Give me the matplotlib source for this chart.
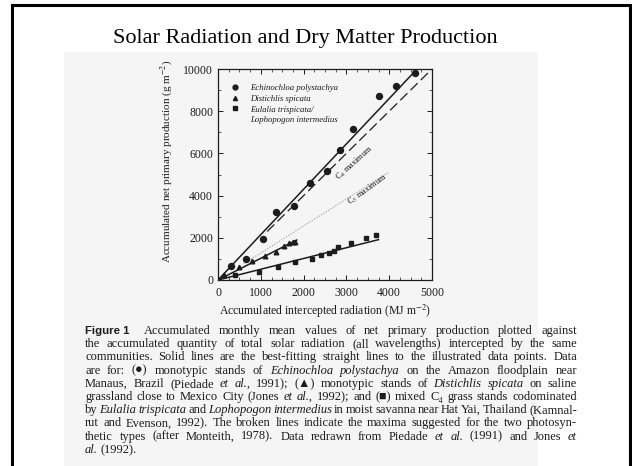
import numpy as np
import matplotlib
matplotlib.use('Agg')
import matplotlib.pyplot as plt
from matplotlib.lines import Line2D
from matplotlib.patches import Rectangle

plt.rcParams['font.family'] = ['Liberation Serif', 'DejaVu Sans']
plt.rcParams['mathtext.fontset'] = 'stix'

### DATA
echino_x = [300, 650, 1050, 1350, 1780, 2150, 2550, 2850, 3150, 3750, 4150, 4600]
echino_y = [650, 1000, 1950, 3200, 3500, 4600, 5150, 6150, 7150, 8700, 9200, 9800]

distich_x = [150, 500, 800, 1100, 1350, 1550, 1650, 1750, 1800]
distich_y = [250, 600, 880, 1150, 1350, 1600, 1750, 1780, 1820]

eulalia_x = [400, 950, 1400, 1800, 2200, 2400, 2600, 2700, 2800, 3100, 3450, 3700]
eulalia_y = [250, 400, 620, 870, 1000, 1180, 1300, 1380, 1580, 1750, 2000, 2150]

# best-fit lines (slope, x range) as drawn in the figure
fit_slopes = [2.15, 1.03, 0.51]
fit_x_end = [4650, 1840, 3750]

# Monteith maxima (broken lines)
c4_slope, c4_x = 2.0, [1150, 5000]
c3_slope, c3_x = 1.28, [600, 4000]

x_ticks = [0, 1000, 2000, 3000, 4000, 5000]
y_ticks = [0, 2000, 4000, 6000, 8000, 10000]

legend_labels = ['Echinochloa polystachya', 'Distichlis spicata',
                 'Eulalia trispicata/', 'Lophopogon intermedius']

caption = [
    [('Figure 1', 'b'), ('Accumulated monthly mean values of net primary production plotted against', 'n')],
    [('the accumulated quantity of total solar radiation (all wavelengths) intercepted by the same', 'n')],
    [('communities. Solid lines are the best-fitting straight lines to the illustrated data points. Data', 'n')],
    [('are for: (\u25cf) monotypic stands of', 'n'), ('Echinochloa polystachya', 'i'), ('on the Amazon floodplain near', 'n')],
    [('Manaus, Brazil (Piedade', 'n'), ('et al.,', 'i'), ('1991); (\u25b2) monotypic stands of', 'n'),
     ('Distichlis spicata', 'i'), ('on saline', 'n')],
    [('grassland close to Mexico City (Jones', 'n'), ('et al.,', 'i'),
     ('1992); and (\u25a0) mixed C\u2084 grass stands codominated', 'n')],
    [('by', 'n'), ('Eulalia trispicata', 'i'), ('and', 'n'), ('Lophopogon intermedius', 'i'),
     ('in moist savanna near Hat Yai, Thailand (Kamnal-', 'n')],
    [('rut and Evenson, 1992). The broken lines indicate the maxima suggested for the two photosyn-', 'n')],
    [('thetic types (after Monteith, 1978). Data redrawn from Piedade', 'n'), ('et al.', 'i'),
     ('(1991) and Jones', 'n'), ('et', 'i')],
    [('al.', 'i'), ('(1992).', 'n')],
]

### FIGURE
W, H = 632, 466
fig = plt.figure(figsize=(W / 100, H / 100), dpi=100)
fig.patch.set_facecolor('white')

# slide frame and scanned page background
fig.patches.append(Rectangle((12 / W, -0.05), (630 - 12) / W, 1.05 - 5 / H, transform=fig.transFigure,
                             fill=False, edgecolor='black', linewidth=2.2, zorder=-1))
fig.patches.append(Rectangle((64 / W, 0), (538 - 64) / W, 1 - 52 / H, transform=fig.transFigure,
                             facecolor='#f5f5f5', edgecolor='none', zorder=-2))

fig.text(305 / W, 1 - 38 / H, 'Solar Radiation and Dry Matter Production',
         ha='center', va='center', fontsize=16, color='black')

ax = fig.add_axes([218 / W, 1 - 280 / H, (432 - 218) / W, (280 - 69) / H])
ax.set_zorder(2)
ax.set_facecolor('none')
ink = '#1c1c1c'

ax.plot(echino_x, echino_y, 'o', color=ink, markersize=4.3, zorder=3)
ax.plot(distich_x, distich_y, '^', color=ink, markersize=3.3, zorder=3)
ax.plot(eulalia_x, eulalia_y, 's', color=ink, markersize=3.5, zorder=3)

for s, xe in zip(fit_slopes, fit_x_end):
    xx = np.array([0, xe])
    ax.plot(xx, s * xx, '-', color=ink, linewidth=1.1)

xx = np.array(c4_x)
ax.plot(xx, c4_slope * xx, color=ink, linewidth=0.9, dashes=(8, 3.5))
xx = np.array(c3_x)
ax.plot(xx, c3_slope * xx, color='#9a9a9a', linewidth=0.8, dashes=(1, 1.5))

ax.text(3200, 5550, r'C$_4$ maximum', rotation=42, ha='center', va='center',
        fontsize=6, color=ink)
ax.text(3500, 4300, r'C$_3$ maximum', rotation=36, ha='center', va='center',
        fontsize=6, color=ink)

ax.set_xlim(0, 5000)
ax.set_ylim(0, 10000)
ax.set_xticks(x_ticks)
ax.set_yticks(y_ticks)
ax.set_xticks(np.arange(0, 5001, 250), minor=True)
ax.set_yticks(np.arange(0, 10001, 1000), minor=True)
ax.tick_params(which='both', direction='in', top=True, right=True, color=ink,
               labelsize=8.5, labelcolor=ink)
ax.tick_params(which='major', length=3.5, width=0.7)
ax.tick_params(which='minor', length=2, width=0.5)
ax.tick_params(axis='x', pad=5)
for sp in ax.spines.values():
    sp.set_linewidth(0.9)
    sp.set_color(ink)

ax.set_xlabel(r'Accumulated intercepted radiation (MJ m$^{-2}$)', fontsize=8.5, color=ink, labelpad=3)
ax.set_ylabel(r'Accumulated net primary production (g m$^{-2}$)', fontsize=8, color=ink)
ax.yaxis.set_label_coords(-0.2, 0.56)

handles = [Line2D([], [], marker='o', color=ink, linestyle='none', markersize=3.5),
           Line2D([], [], marker='^', color=ink, linestyle='none', markersize=3),
           Line2D([], [], marker='s', color=ink, linestyle='none', markersize=3.2),
           Line2D([], [], marker=None, linestyle='none')]
ax.legend(handles, legend_labels, loc='upper left', bbox_to_anchor=(0.04, 0.95), frameon=False,
          prop={'family': 'Liberation Serif', 'style': 'italic', 'size': 6.3},
          handlelength=1.0, handletextpad=1.2, labelspacing=0.3, borderpad=0, labelcolor=ink)

### CAPTION (justified, word by word)
fig.canvas.draw()
renderer = fig.canvas.get_renderer()
left, right = 85, 577
cap_size = 9.0
styles = {'n': dict(family=['Liberation Serif', 'DejaVu Sans']),
          'i': dict(family=['Liberation Serif', 'DejaVu Sans'], style='italic'),
          'b': dict(family='Liberation Sans', weight='bold')}

for li, segs in enumerate(caption):
    y = 1 - (334 + li * 13.2) / H
    words = []
    for txt, st in segs:
        if st == 'b':
            words.append((txt, st))
        else:
            words += [(w, st) for w in txt.split(' ')]
    objs = []
    for w, st in words:
        t = fig.text(0, y, w, fontsize=cap_size if st != 'b' else cap_size - 0.8,
                     va='baseline', ha='left', color=ink, **styles[st])
        objs.append(t)
    widths = [t.get_window_extent(renderer).width for t in objs]
    natural_gap = 2.6
    if li < len(caption) - 1:
        gap = (right - left - sum(widths) - (6 if li == 0 else 0)) / (len(objs) - 1)
    else:
        gap = natural_gap
    x = left
    for i, (t, wd) in enumerate(zip(objs, widths)):
        t.set_x(x / W)
        x += wd + gap
        if li == 0 and i == 0:
            x += 6

fig.savefig('out.png', dpi=100)
